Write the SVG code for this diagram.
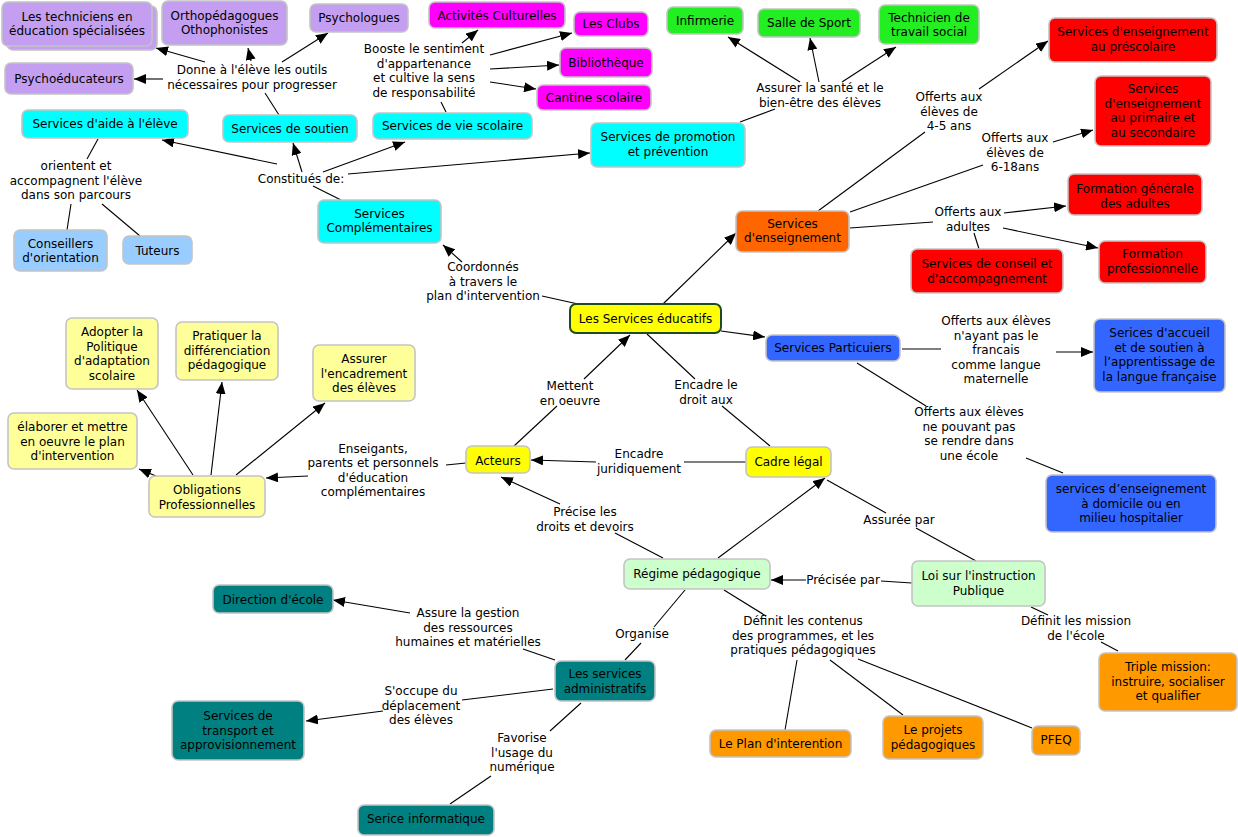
<svg xmlns="http://www.w3.org/2000/svg" width="1238" height="837" viewBox="0 0 1238 837">
<defs>
<marker id="ah" markerUnits="userSpaceOnUse" markerWidth="12" markerHeight="10" refX="12" refY="5" orient="auto"><path d="M0,0 L12,5 L0,10 Z" fill="#000"/></marker>
<style>
text{font-family:"DejaVu Sans","Verdana",sans-serif;font-size:12px;fill:#000;text-anchor:middle}
rect{stroke:#c4c4c4;stroke-width:1.6}
rect.bg{stroke:none;fill:#fff}
.pu{fill:#c49ef0}.cy{fill:#00ffff}.lb{fill:#99ccff}.mg{fill:#ff00ff}.gr{fill:#22ee22}.rd{fill:#ff0000}.or{fill:#ff6600}.ye{fill:#ffff00}.bl{fill:#3366ff}.ly{fill:#ffff99}.lg{fill:#ccffcc}.og{fill:#ff9900}.tl{fill:#008080}
#conn line{stroke:#000;stroke-width:1.1}
#conn line.a{marker-end:url(#ah)}
</style>
</defs>
<rect class="bg" x="0" y="0" width="1238" height="837"/>
<g id="conn">
<line class="a" x1="205" y1="62" x2="156" y2="48"/>
<line class="a" x1="251" y1="61" x2="248" y2="48"/>
<line class="a" x1="282" y1="62" x2="328" y2="33"/>
<line class="a" x1="163" y1="79" x2="134" y2="79"/>
<line x1="279" y1="115" x2="265" y2="93"/>
<line x1="341" y1="200" x2="313" y2="186"/>
<line class="a" x1="277" y1="164" x2="162" y2="140"/>
<line class="a" x1="302" y1="172" x2="293" y2="143"/>
<line class="a" x1="323" y1="172" x2="405" y2="142"/>
<line class="a" x1="348" y1="174" x2="590" y2="153"/>
<line x1="98" y1="139" x2="87" y2="159"/>
<line x1="71" y1="204" x2="67" y2="230"/>
<line x1="102" y1="204" x2="140" y2="236"/>
<line x1="446" y1="112" x2="441" y2="102"/>
<line class="a" x1="462" y1="43" x2="478" y2="30"/>
<line class="a" x1="490" y1="55" x2="572" y2="33"/>
<line class="a" x1="490" y1="69" x2="559" y2="65"/>
<line class="a" x1="490" y1="82" x2="536" y2="89"/>
<line x1="740" y1="122" x2="775" y2="109"/>
<line class="a" x1="800" y1="82" x2="728" y2="37"/>
<line class="a" x1="819" y1="82" x2="810" y2="38"/>
<line class="a" x1="842" y1="82" x2="896" y2="47"/>
<line x1="818" y1="211" x2="925" y2="132"/>
<line class="a" x1="979" y1="89" x2="1048" y2="41"/>
<line x1="850" y1="212" x2="983" y2="165"/>
<line class="a" x1="1053" y1="142" x2="1093" y2="130"/>
<line x1="850" y1="228" x2="933" y2="222"/>
<line class="a" x1="1004" y1="213" x2="1066" y2="206"/>
<line class="a" x1="1003" y1="228" x2="1098" y2="248"/>
<line x1="974" y1="233" x2="979" y2="249"/>
<line class="a" x1="663" y1="304" x2="736" y2="233"/>
<line x1="578" y1="304" x2="542" y2="296"/>
<line class="a" x1="462" y1="262" x2="443" y2="245"/>
<line class="a" x1="721" y1="331" x2="765" y2="337"/>
<line x1="902" y1="349" x2="941" y2="349"/>
<line class="a" x1="1056" y1="352" x2="1093" y2="352"/>
<line x1="857" y1="363" x2="926" y2="406"/>
<line x1="1026" y1="458" x2="1063" y2="473"/>
<line x1="514" y1="446" x2="557" y2="406"/>
<line class="a" x1="584" y1="379" x2="630" y2="335"/>
<line x1="647" y1="334" x2="695" y2="379"/>
<line x1="722" y1="406" x2="770" y2="446"/>
<line x1="746" y1="462" x2="684" y2="462"/>
<line class="a" x1="596" y1="462" x2="531" y2="460"/>
<line x1="466" y1="463" x2="446" y2="465"/>
<line class="a" x1="308" y1="476" x2="266" y2="478"/>
<line class="a" x1="156" y1="476" x2="139" y2="469"/>
<line class="a" x1="193" y1="475" x2="137" y2="390"/>
<line class="a" x1="211" y1="475" x2="222" y2="382"/>
<line class="a" x1="236" y1="475" x2="325" y2="403"/>
<line x1="663" y1="558" x2="615" y2="533"/>
<line class="a" x1="560" y1="504" x2="501" y2="477"/>
<line class="a" x1="718" y1="558" x2="825" y2="478"/>
<line x1="976" y1="561" x2="916" y2="528"/>
<line x1="886" y1="513" x2="827" y2="480"/>
<line x1="912" y1="583" x2="881" y2="581"/>
<line class="a" x1="806" y1="580" x2="771" y2="580"/>
<line x1="1031" y1="607" x2="1048" y2="615"/>
<line x1="1101" y1="642" x2="1118" y2="651"/>
<line x1="724" y1="590" x2="766" y2="616"/>
<line x1="797" y1="660" x2="785" y2="730"/>
<line x1="830" y1="660" x2="903" y2="715"/>
<line x1="858" y1="659" x2="1032" y2="728"/>
<line x1="685" y1="590" x2="654" y2="627"/>
<line x1="641" y1="643" x2="625" y2="660"/>
<line x1="555" y1="660" x2="523" y2="649"/>
<line class="a" x1="410" y1="613" x2="333" y2="600"/>
<line x1="553" y1="689" x2="462" y2="700"/>
<line class="a" x1="383" y1="711" x2="306" y2="721"/>
<line x1="581" y1="703" x2="550" y2="731"/>
<line x1="491" y1="776" x2="450" y2="804"/>
</g>
<g id="labels">
<text x="252" y="74">Donne à l'élève les outils<tspan x="252" dy="14.5">nécessaires pour progresser</tspan></text>
<text x="301" y="183">Constitués de:</text>
<text x="76" y="170">orientent et<tspan x="76" dy="14.5">accompagnent l'élève</tspan><tspan x="76" dy="14.5">dans son parcours</tspan></text>
<text x="424" y="53">Booste le sentiment<tspan x="424" dy="14.5">d'appartenance</tspan><tspan x="424" dy="14.5">et cultive la sens</tspan><tspan x="424" dy="14.5">de responsabilité</tspan></text>
<text x="820" y="92">Assurer la santé et le<tspan x="820" dy="14.5">bien-être des élèves</tspan></text>
<text x="949" y="101">Offerts aux<tspan x="949" dy="14.5">élèves de</tspan><tspan x="949" dy="14.5">4-5 ans</tspan></text>
<text x="1015" y="142">Offerts aux<tspan x="1015" dy="14.5">élèves de</tspan><tspan x="1015" dy="14.5">6-18ans</tspan></text>
<text x="968" y="216">Offerts aux<tspan x="968" dy="14.5">adultes</tspan></text>
<text x="483" y="271">Coordonnés<tspan x="483" dy="14.5">à travers le</tspan><tspan x="483" dy="14.5">plan d'intervention</tspan></text>
<text x="996" y="325">Offerts aux élèves<tspan x="996" dy="14.5">n'ayant pas le</tspan><tspan x="996" dy="14.5">francais</tspan><tspan x="996" dy="14.5">comme langue</tspan><tspan x="996" dy="14.5">maternelle</tspan></text>
<text x="969" y="416">Offerts aux élèves<tspan x="969" dy="14.5">ne pouvant pas</tspan><tspan x="969" dy="14.5">se rendre dans</tspan><tspan x="969" dy="14.5">une école</tspan></text>
<text x="570" y="390">Mettent<tspan x="570" dy="14.5">en oeuvre</tspan></text>
<text x="706" y="389">Encadre le<tspan x="706" dy="14.5">droit aux</tspan></text>
<text x="639" y="458">Encadre<tspan x="639" dy="14.5">juridiquement</tspan></text>
<text x="373" y="452.5">Enseigants,<tspan x="373" dy="14.5">parents et personnels</tspan><tspan x="373" dy="14.5">d'éducation</tspan><tspan x="373" dy="14.5">complémentaires</tspan></text>
<text x="585" y="516">Précise les<tspan x="585" dy="14.5">droits et devoirs</tspan></text>
<text x="899" y="524">Assurée par</text>
<text x="843" y="584">Précisée par</text>
<text x="1076" y="625">Définit les mission<tspan x="1076" dy="14.5">de l'école</tspan></text>
<text x="803" y="625">Définit les contenus<tspan x="803" dy="14.5">des programmes, et les</tspan><tspan x="803" dy="14.5">pratiques pédagogiques</tspan></text>
<text x="642" y="638">Organise</text>
<text x="468" y="617">Assure la gestion<tspan x="468" dy="14.5">des ressources</tspan><tspan x="468" dy="14.5">humaines et matérielles</tspan></text>
<text x="421" y="695">S'occupe du<tspan x="421" dy="14.5">déplacement</tspan><tspan x="421" dy="14.5">des élèves</tspan></text>
<text x="522" y="742">Favorise<tspan x="522" dy="14.5">l'usage du</tspan><tspan x="522" dy="14.5">numérique</tspan></text>
</g>
<g id="n-techniciens"><rect class="pu" x="7" y="6" width="150" height="44" rx="6"/><rect class="pu" x="2" y="2" width="150" height="44" rx="6"/><text x="77" y="20.5">Les techniciens en<tspan x="77" dy="14.5">éducation spécialisées</tspan></text></g>
<g id="n-ortho"><rect class="pu" x="162" y="1" width="125" height="44" rx="6"/><text x="224.5" y="19.5">Orthopédagogues<tspan x="224.5" dy="14.5">Othophonistes</tspan></text></g>
<g id="n-psychologues"><rect class="pu" x="310" y="4" width="98" height="28" rx="6"/><text x="359" y="22">Psychologues</text></g>
<g id="n-psychoeducateurs"><rect class="pu" x="5" y="63" width="128" height="31" rx="6"/><text x="69" y="83">Psychoéducateurs</text></g>
<g id="n-aide"><rect class="cy" x="22" y="110" width="166" height="28" rx="6"/><text x="105" y="128">Services d'aide à l'élève</text></g>
<g id="n-soutien"><rect class="cy" x="223" y="115" width="134" height="27" rx="6"/><text x="290" y="133">Services de soutien</text></g>
<g id="n-viescolaire"><rect class="cy" x="373" y="113" width="159" height="26" rx="6"/><text x="452.5" y="130">Services de vie scolaire</text></g>
<g id="n-promotion"><rect class="cy" x="591" y="123" width="154" height="44" rx="6"/><text x="668" y="141">Services de promotion<tspan x="668" dy="14.5">et prévention</tspan></text></g>
<g id="n-complementaires"><rect class="cy" x="318" y="200" width="123" height="43" rx="6"/><text x="379.5" y="217.5">Services<tspan x="379.5" dy="14.5">Complémentaires</tspan></text></g>
<g id="n-conseillers"><rect class="lb" x="14" y="230" width="93" height="41" rx="6"/><text x="60.5" y="247.5">Conseillers<tspan x="60.5" dy="14.5">d'orientation</tspan></text></g>
<g id="n-tuteurs"><rect class="lb" x="123" y="236" width="69" height="28" rx="6"/><text x="157.5" y="254.5">Tuteurs</text></g>
<g id="n-activites"><rect class="mg" x="429" y="2" width="136" height="26" rx="6"/><text x="497" y="19.5">Activités Culturelles</text></g>
<g id="n-clubs"><rect class="mg" x="574" y="12" width="74" height="24" rx="6"/><text x="611" y="28">Les Clubs</text></g>
<g id="n-biblio"><rect class="mg" x="560" y="48" width="92" height="29" rx="6"/><text x="606" y="66.5">Bibliothèque</text></g>
<g id="n-cantine"><rect class="mg" x="537" y="85" width="114" height="25" rx="6"/><text x="594" y="102">Cantine scolaire</text></g>
<g id="n-infirmerie"><rect class="gr" x="667" y="7" width="76" height="27" rx="6"/><text x="705" y="25">Infirmerie</text></g>
<g id="n-salle"><rect class="gr" x="758" y="9" width="102" height="28" rx="6"/><text x="809" y="26.5">Salle de Sport</text></g>
<g id="n-technicien"><rect class="gr" x="879" y="5" width="100" height="39" rx="6"/><text x="929" y="21.5">Technicien de<tspan x="929" dy="14.5">travail social</tspan></text></g>
<g id="n-prescolaire"><rect class="rd" x="1049" y="18" width="168" height="44" rx="6"/><text x="1133" y="36">Services d'enseignement<tspan x="1133" dy="14.5">au préscolaire</tspan></text></g>
<g id="n-primaire"><rect class="rd" x="1095" y="76" width="116" height="70" rx="6"/><text x="1153" y="93">Services<tspan x="1153" dy="14.5">d'enseignement</tspan><tspan x="1153" dy="14.5">au primaire et</tspan><tspan x="1153" dy="14.5">au secondaire</tspan></text></g>
<g id="n-fga"><rect class="rd" x="1068" y="174" width="134" height="41" rx="6"/><text x="1135" y="193">Formation générale<tspan x="1135" dy="14.5">des adultes</tspan></text></g>
<g id="n-fp"><rect class="rd" x="1099" y="241" width="107" height="42" rx="6"/><text x="1152.5" y="258">Formation<tspan x="1152.5" dy="14.5">professionnelle</tspan></text></g>
<g id="n-conseil"><rect class="rd" x="911" y="249" width="152" height="44" rx="6"/><text x="987" y="268">Services de conseil et<tspan x="987" dy="14.5">d'accompagnement</tspan></text></g>
<g id="n-enseignement"><rect class="or" x="736" y="211" width="113" height="41" rx="6"/><text x="792.5" y="227.5">Services<tspan x="792.5" dy="14.5">d'enseignement</tspan></text></g>
<g id="n-educatifs"><rect class="ye" x="570" y="304" width="151" height="29" rx="6" style="stroke:#1f4a1f;stroke-width:2"/><text x="645.5" y="323">Les Services éducatifs</text></g>
<g id="n-particuliers"><rect class="bl" x="766" y="335" width="134" height="26" rx="6"/><text x="833" y="352">Services Particuiers</text></g>
<g id="n-accueil"><rect class="bl" x="1094" y="319" width="131" height="73" rx="6"/><text x="1159.5" y="337">Serices d'accueil<tspan x="1159.5" dy="14.5">et de soutien à</tspan><tspan x="1159.5" dy="14.5">l’apprentissage de</tspan><tspan x="1159.5" dy="14.5">la langue française</tspan></text></g>
<g id="n-domicile"><rect class="bl" x="1046" y="475" width="170" height="57" rx="6"/><text x="1131" y="493">services d’enseignement<tspan x="1131" dy="14.5">à domicile ou en</tspan><tspan x="1131" dy="14.5">milieu hospitalier</tspan></text></g>
<g id="n-acteurs"><rect class="ye" x="466" y="446" width="64" height="27" rx="6"/><text x="498" y="465">Acteurs</text></g>
<g id="n-cadre"><rect class="ye" x="746" y="447" width="85" height="30" rx="6"/><text x="788.5" y="466">Cadre légal</text></g>
<g id="n-obligations"><rect class="ly" x="149" y="476" width="116" height="41" rx="6"/><text x="207" y="494">Obligations<tspan x="207" dy="14.5">Professionnelles</tspan></text></g>
<g id="n-adopter"><rect class="ly" x="66" y="318" width="92" height="71" rx="6"/><text x="112" y="336">Adopter la<tspan x="112" dy="14.5">Politique</tspan><tspan x="112" dy="14.5">d'adaptation</tspan><tspan x="112" dy="14.5">scolaire</tspan></text></g>
<g id="n-pratiquer"><rect class="ly" x="176" y="322" width="102" height="58" rx="6"/><text x="227" y="340">Pratiquer la<tspan x="227" dy="14.5">différenciation</tspan><tspan x="227" dy="14.5">pédagogique</tspan></text></g>
<g id="n-assurer"><rect class="ly" x="313" y="345" width="102" height="56" rx="6"/><text x="364" y="363">Assurer<tspan x="364" dy="14.5">l'encadrement</tspan><tspan x="364" dy="14.5">des élèves</tspan></text></g>
<g id="n-elaborer"><rect class="ly" x="8" y="413" width="129" height="56" rx="6"/><text x="72.5" y="431">élaborer et mettre<tspan x="72.5" dy="14.5">en oeuvre le plan</tspan><tspan x="72.5" dy="14.5">d'intervention</tspan></text></g>
<g id="n-regime"><rect class="lg" x="624" y="559" width="146" height="30" rx="6"/><text x="697" y="578">Régime pédagogique</text></g>
<g id="n-loi"><rect class="lg" x="912" y="561" width="133" height="45" rx="6"/><text x="978.5" y="580">Loi sur l'instruction<tspan x="978.5" dy="14.5">Publique</tspan></text></g>
<g id="n-triple"><rect class="og" x="1099" y="653" width="138" height="58" rx="6"/><text x="1168" y="671">Triple mission:<tspan x="1168" dy="14.5">instruire, socialiser</tspan><tspan x="1168" dy="14.5">et qualifier</tspan></text></g>
<g id="n-plan"><rect class="og" x="710" y="730" width="141" height="27" rx="6"/><text x="780.5" y="748">Le Plan d'interention</text></g>
<g id="n-projets"><rect class="og" x="883" y="716" width="100" height="43" rx="6"/><text x="933" y="734">Le projets<tspan x="933" dy="14.5">pédagogiques</tspan></text></g>
<g id="n-pfeq"><rect class="og" x="1032" y="726" width="48" height="29" rx="6"/><text x="1056" y="744">PFEQ</text></g>
<g id="n-admin"><rect class="tl" x="555" y="661" width="100" height="40" rx="6"/><text x="605" y="678">Les services<tspan x="605" dy="14.5">administratifs</tspan></text></g>
<g id="n-direction"><rect class="tl" x="213" y="585" width="120" height="28" rx="6"/><text x="273" y="604">Direction d'école</text></g>
<g id="n-transport"><rect class="tl" x="172" y="701" width="132" height="59" rx="6"/><text x="238" y="720">Services de<tspan x="238" dy="14.5">transport et</tspan><tspan x="238" dy="14.5">approvisionnement</tspan></text></g>
<g id="n-informatique"><rect class="tl" x="358" y="805" width="136" height="30" rx="6"/><text x="426" y="823">Serice informatique</text></g>
</svg>
